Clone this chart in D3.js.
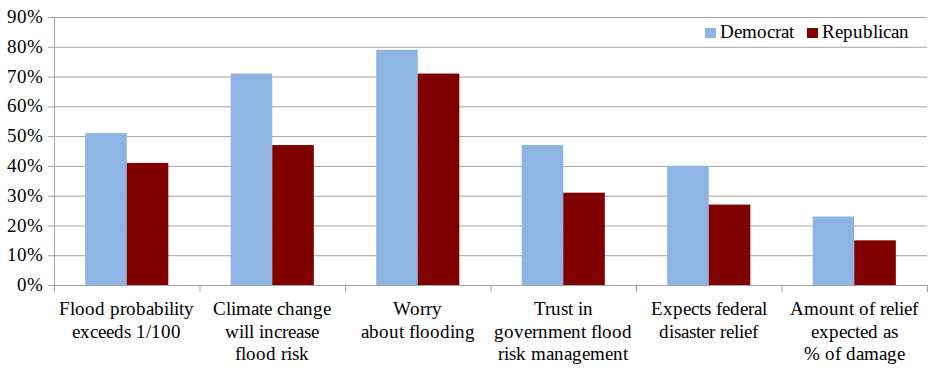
<!DOCTYPE html>
<html>
<head>
<meta charset="utf-8">
<script src="https://cdn.jsdelivr.net/npm/d3@7"></script>
<style>
  @font-face { font-family: "ChartSerif"; src: local("Liberation Serif"), local("LiberationSerif"), local("Tinos"), local("Times New Roman"); }
  body { margin: 0; font-family: "Liberation Serif", "Times New Roman", serif; }
  svg { display: block; }
  .lab { font-family: "ChartSerif", "Liberation Serif", Tinos, "Times New Roman", "DejaVu Serif", serif; font-size: 18.5px; fill: #000; }
</style>
</head>
<body>
<div id="chart"></div>
<script>
// data
const categories = [
  ["Flood probability", "exceeds 1/100"],
  ["Climate change", "will increase", "flood risk"],
  ["Worry", "about flooding"],
  ["Trust in", "government flood", "risk management"],
  ["Expects federal", "disaster relief"],
  ["Amount of relief", "expected as", "% of damage"]
]
const series = ["Democrat", "Republican"]
const democrat = [51, 71, 79, 47, 40, 23]
const republican = [41, 47, 71, 31, 27, 15]
const yTicks = [0, 10, 20, 30, 40, 50, 60, 70, 80, 90]
const colors = ["#8eb4e3", "#800000"]

const width = 930, height = 368
const margin = {top: 17, right: 3, bottom: 83, left: 54}
const innerWidth = width - margin.left - margin.right
const innerHeight = height - margin.top - margin.bottom

const idx = d3.range(categories.length)

const x = d3.scaleBand()
  .domain(idx)
  .range([0, innerWidth])

const x1 = d3.scaleBand()
  .domain(series)
  .range([0, x.bandwidth()])
  .paddingOuter(0.75)

const y = d3.scaleLinear()
  .domain([0, 90])
  .range([innerHeight, 0])

const root = d3.select("#chart")
  .append("svg")
  .attr("width", width)
  .attr("height", height)

const svg = root.append("g")
  .attr("transform", `translate(${margin.left}, ${margin.top})`)

// gridlines
svg.selectAll("line.grid")
  .data(yTicks.filter(d => d > 0))
  .join("line")
  .attr("class", "grid")
  .attr("x1", 0)
  .attr("x2", innerWidth)
  .attr("y1", d => y(d) + 0.5)
  .attr("y2", d => y(d) + 0.5)
  .attr("stroke", "#a3a3a3")

// bars
const rows = idx.map(i => ({i: i, vals: [democrat[i], republican[i]]}))

svg.selectAll("g.cat")
  .data(rows)
  .join("g")
  .attr("class", "cat")
  .attr("transform", d => `translate(${x(d.i)}, 0)`)
  .selectAll("rect")
  .data(d => d.vals.map((v, k) => ({s: series[k], v: v, k: k})))
  .join("rect")
  .attr("x", d => x1(d.s))
  .attr("width", x1.bandwidth())
  .attr("y", d => y(d.v))
  .attr("height", d => innerHeight - y(d.v))
  .attr("fill", d => colors[d.k])

// y axis ticks + line
const gy = svg.append("g").call(d3.axisLeft(y).tickValues(yTicks).tickSize(6).tickFormat(""))
gy.select(".domain").attr("stroke", "#a3a3a3").attr("d", `M0.5,0V${innerHeight}`)
gy.selectAll(".tick line").attr("stroke", "#a3a3a3")

root.selectAll("text.ylab")
  .data(yTicks)
  .join("text")
  .attr("class", "ylab lab")
  .attr("x", margin.left - 11)
  .attr("y", d => margin.top + y(d))
  .attr("dy", "0.33em")
  .attr("text-anchor", "end")
  .text(d => d + "%")

// x axis
const xEdge = d3.axisBottom(d3.scaleLinear().domain([0, categories.length]).range([0, innerWidth]))
  .tickValues(d3.range(categories.length + 1))
  .tickSize(7)
  .tickFormat("")

const gx = svg.append("g")
  .attr("transform", `translate(0, ${innerHeight})`)
  .call(xEdge)
gx.select(".domain").attr("stroke", "#a3a3a3").attr("d", `M0,0.5H${innerWidth}`)
gx.selectAll(".tick line").attr("stroke", "#a3a3a3")

// category labels, one text per line
const lines = []
rows.forEach(r => categories[r.i].forEach((t, j) => lines.push({i: r.i, j: j, t: t})))

root.selectAll("text.cat")
  .data(lines)
  .join("text")
  .attr("class", "cat lab")
  .attr("text-anchor", "middle")
  .attr("x", d => margin.left + x(d.i) + x.bandwidth() / 2)
  .attr("y", d => margin.top + innerHeight + 30 + d.j * 22.5)
  .text(d => d.t)

// legend
const legendX = [705, 807]
root.selectAll("rect.leg")
  .data(series)
  .join("rect")
  .attr("class", "leg")
  .attr("x", (d, k) => legendX[k])
  .attr("y", 28)
  .attr("width", 11)
  .attr("height", 10)
  .attr("fill", (d, k) => colors[k])

root.selectAll("text.leg")
  .data(series)
  .join("text")
  .attr("class", "leg lab")
  .attr("x", (d, k) => legendX[k] + 15)
  .attr("y", 38)
  .text(d => d)
</script>
</body>
</html>
